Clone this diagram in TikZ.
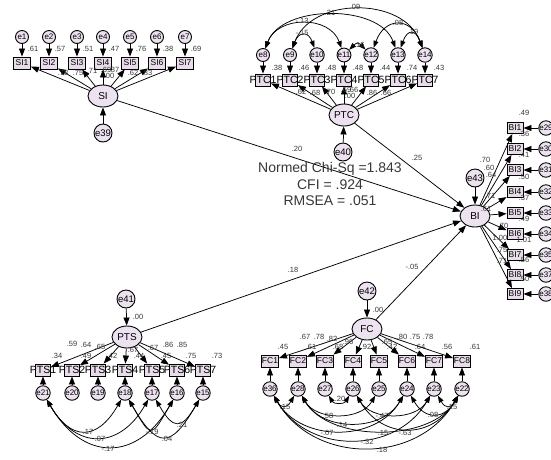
\documentclass[tikz,border=0pt]{standalone}
\usepackage{fontspec}
\setmainfont{Liberation Sans}
\usetikzlibrary{arrows.meta,shapes.geometric}

\definecolor{latfill}{RGB}{236,226,240}
\definecolor{boxfill}{RGB}{232,220,234}
\definecolor{ink}{RGB}{55,55,55}

\begin{document}
\begin{tikzpicture}[x=1pt,y=-1pt,
  every node/.style={inner sep=0pt},
  obs/.style={draw,line width=0.9pt,fill=boxfill,minimum width=17pt,minimum height=12pt,font=\fontsize{8.5}{8.5}\selectfont},
  bibox/.style={obs,minimum width=16pt,minimum height=11pt},
  boxtext/.style={font=\fontsize{10.5}{10.5}\selectfont,inner sep=0pt},
  narrowbox/.style={draw,line width=0.9pt,fill=boxfill,minimum width=15pt,minimum height=12pt,label={[boxtext]center:#1}},
  lat/.style={ellipse,draw,line width=0.9pt,fill=latfill,minimum width=30pt,minimum height=22pt,font=\fontsize{10}{10}\selectfont},
  err/.style={circle,draw,line width=0.9pt,fill=latfill,minimum size=13pt,font=\fontsize{8}{8}\selectfont},
  bigerr/.style={err,minimum size=18pt,font=\fontsize{9.5}{9.5}\selectfont},
  arr/.style={-{Triangle[length=8pt,width=6pt]},line width=0.75pt},
  cov/.style={{Triangle[length=7pt,width=5pt]}-{Triangle[length=7pt,width=5pt]},line width=0.75pt},
  lbl/.style={font=\fontsize{7.5}{7.5}\selectfont,text=ink},
  fit/.style={font=\fontsize{14}{16.5}\selectfont,align=center,text=ink},
]
\useasboundingbox (0,0) rectangle (551,459);

% ---------- latent variables and their disturbances ----------
\node[lat] (SI)  at (103,96)  {SI};
\node[lat] (PTC) at (344,115) {PTC};
\node[lat] (BI)  at (475,216) {BI};
\node[lat] (PTS) at (127,337) {PTS};
\node[lat] (FC)  at (367,329) {FC};
\node[bigerr] (e39) at (103,133) {e39};
\node[bigerr] (e40) at (343,152) {e40};
\node[bigerr] (e43) at (475,178) {e43};
\node[bigerr] (e41) at (126,299) {e41};
\node[bigerr] (e42) at (367,291) {e42};
\draw[arr] (e39) -- (SI);
\draw[arr] (e40) -- (PTC);
\draw[arr] (e43) -- (BI);
\draw[arr] (e41) -- (PTS);
\draw[arr] (e42) -- (FC);

% ---------- SI indicators ----------
\foreach \i/\x/\r in {1/22/.61,2/49/.57,3/77/.51,4/103/.47,5/130/.76,6/157/.38,7/185/.69}{
  \node[obs] (SI\i) at (\x,63) {SI\i};
  \node[err] (e\i) at (\x,37) {e\i};
  \node[lbl] at (\x+11,49) {\r};
  \draw[arr] (e\i) -- (SI\i);
  \draw[arr] (SI) -- (SI\i);
}
\node[lbl] at (63,73) {.78};
\node[lbl] at (78,73) {.75};
\node[lbl] at (92,71) {.71};
\node[lbl] at (106,70) {.69};
\node[lbl] at (114,70) {.87};
\node[lbl] at (109,76) {.00};
\node[lbl] at (133,73) {.62};
\node[lbl] at (147,73) {.83};

% ---------- PTC indicators ----------
\foreach \i/\k/\x/\r in {1/8/263/.38,2/9/290/.46,3/10/317/.48,4/11/344/.48,5/12/371/.44,6/13/398/.74,7/14/425/.43}{
  \node[narrowbox=PTC\i] (PTC\i) at (\x,80) {};
  \node[err] (e\k) at (\x,55) {e\k};
  \node[lbl] at (\x+14,68) {\r};
  \draw[arr] (e\k) -- (PTC\i);
  \draw[arr] (PTC) -- (PTC\i);
}
\node[lbl] at (301,92) {.62};
\node[lbl] at (315,93) {.68};
\node[lbl] at (330,92) {.70};
\node[lbl] at (346,90) {.69};
\node[lbl] at (353,90) {.66};
\node[lbl] at (350,96) {.00};
\node[lbl] at (372,93) {.86};
\node[lbl] at (386,93) {.66};
% error covariances among PTC items
\draw[cov] (e9)  to[out=70,in=110,distance=55pt] (e14);
\draw[cov] (e8)  to[out=70,in=110,distance=47pt] (e13);
\draw[cov] (e8)  to[out=70,in=110,distance=35pt] (e11);
\draw[cov] (e12) to[out=70,in=110,distance=33pt] (e14);
\draw[cov] (e9)  to[out=70,in=110,distance=18pt] (e10);
\draw[cov] (e13) to[out=70,in=110,distance=20pt] (e14);
\draw[cov] (e11) to[out=45,in=135,distance=10pt] (e12);
\node[lbl] at (355,7)  {.09};
\node[lbl] at (330,13) {.21};
\node[lbl] at (302,21) {-.13};
\node[lbl] at (398,23) {.08};
\node[lbl] at (302,33) {-.15};
\node[lbl] at (413,32) {.19};
\node[lbl] at (358,45) {-.16};

% ---------- BI indicators ----------
\foreach \i/\y/\r/\e in {1/128/.49/29,2/149/.36/30,3/170/.41/31,4/192/.50/32,5/213/.37/33,6/234/.49/34,7/255/1.01/35,8/275/.56/37,9/294/.50/38}{
  \node[bibox] (BI\i) at (515,\y) {BI\i};
  \node[err] (eb\i) at (546,\y) {e\e};
  \node[lbl] at (524,\y-15) {\r};
  \draw[arr] (eb\i) -- (BI\i);
  \draw[arr] (BI) -- (BI\i);
}
\node[lbl] at (485,160) {.70};
\node[lbl] at (489,168) {.60};
\node[lbl] at (491,175) {.64};
\node[lbl] at (490,196) {.71};
\node[lbl] at (486,209) {.61};
\node[lbl] at (503,226) {.70};
\node[lbl] at (500,238) {1.00};
\node[lbl] at (502,250) {.75};
\node[lbl] at (502,261) {.71};

% ---------- PTS indicators ----------
\foreach \i/\x/\r/\k in {1/43/.34/21,2/72/.49/20,3/98/.42/19,4/125/.44/18,5/152/.45/17,6/177/.75/16,7/203/.73/15}{
  \node[narrowbox=PTS\i] (PTS\i) at (\x,370) {};
  \node[err] (e\k) at (\x,393) {e\k};
  \node[lbl] at (\x+14,356) {\r};
  \draw[arr] (e\k) -- (PTS\i);
  \draw[arr] (PTS) -- (PTS\i);
}
\node[lbl] at (138,317) {.00};
\node[lbl] at (72,344) {.59};
\node[lbl] at (86,345) {.64};
\node[lbl] at (100,347) {.65};
\node[lbl] at (133,350) {.67};
\node[lbl] at (153,348) {.67};
\node[lbl] at (168,345) {.86};
\node[lbl] at (182,345) {.85};
% error covariances among PTS items
\draw[cov] (e21) to[out=-60,in=-120,distance=48pt] (e18);
\draw[cov] (e21) to[out=-60,in=-120,distance=58pt] (e17);
\draw[cov] (e21) to[out=-60,in=-120,distance=72pt] (e16);
\draw[cov] (e18) to[out=-60,in=-120,distance=45pt] (e16);
\draw[cov] (e18) to[out=-60,in=-120,distance=57pt] (e15);
\draw[cov] (e17) to[out=-60,in=-120,distance=35pt] (e15);
\node[lbl] at (88,432)  {.17};
\node[lbl] at (100,439) {.07};
\node[lbl] at (108,449) {-.17};
\node[lbl] at (152,432) {-.19};
\node[lbl] at (167,439) {.04};
\node[lbl] at (182,425) {.21};

% ---------- FC indicators ----------
\foreach \i/\x/\r/\k in {1/270/.45/36,2/298/.61/28,3/325/.68/27,4/353/.92/26,5/379/.42/25,6/407/.64/24,7/434/.56/23,8/462/.61/22}{
  \node[obs] (FC\i) at (\x,361) {FC\i};
  \node[err] (e\k) at (\x,389) {e\k};
  \node[lbl] at (\x+13,347) {\r};
  \draw[arr] (e\k) -- (FC\i);
  \draw[arr] (FC) -- (FC\i);
}
\node[lbl] at (378,310) {.00};
\node[lbl] at (305,337) {.67};
\node[lbl] at (319,337) {.78};
\node[lbl] at (332,339) {.82};
\node[lbl] at (348,342) {.96};
\node[lbl] at (387,342) {.65};
\node[lbl] at (402,337) {.80};
\node[lbl] at (415,337) {.75};
\node[lbl] at (428,337) {.78};
% error covariances among FC items
\draw[cov] (e36) to[out=-60,in=-120,distance=15pt] (e28);
\draw[cov] (e27) to[out=-60,in=-120,distance=10pt] (e26);
\draw[cov] (e28) to[out=-60,in=-120,distance=29pt] (e25);
\draw[cov] (e28) to[out=-60,in=-120,distance=42pt] (e24);
\draw[cov] (e26) to[out=-60,in=-120,distance=29pt] (e23);
\draw[cov] (e36) to[out=-60,in=-120,distance=54pt] (e24);
\draw[cov] (e28) to[out=-60,in=-120,distance=54pt] (e22);
\draw[cov] (e26) to[out=-60,in=-120,distance=51pt] (e22);
\draw[cov] (e36) to[out=-60,in=-120,distance=68pt] (e23);
\draw[cov] (e36) to[out=-60,in=-120,distance=80pt] (e22);
\draw[cov] (e24) to[out=-60,in=-120,distance=28pt] (e22);
\draw[cov] (e23) to[out=-60,in=-120,distance=15pt] (e22);
\node[lbl] at (285,407) {.15};
\node[lbl] at (340,399) {.20};
\node[lbl] at (328,416) {.58};
\node[lbl] at (342,425) {.14};
\node[lbl] at (382,416) {-.47};
\node[lbl] at (327,433) {-.07};
\node[lbl] at (383,433) {.15};
\node[lbl] at (405,433) {-.63};
\node[lbl] at (367,442) {-.32};
\node[lbl] at (382,450) {.18};
\node[lbl] at (433,415) {.08};
\node[lbl] at (452,407) {.15};

% ---------- structural paths ----------
\draw[arr] (SI)  -- (BI);
\draw[arr] (PTC) -- (BI);
\draw[arr] (PTS) -- (BI);
\draw[arr] (FC)  -- (BI);
\node[lbl] at (297,149) {.20};
\node[lbl] at (417,158) {.25};
\node[lbl] at (293,270) {.18};
\node[lbl] at (412,267) {-.05};

% ---------- fit indices ----------
\node[fit] (fitidx) at (330,184) {Normed Chi-Sq =1.843\\CFI = .924\\RMSEA = .051};
\end{tikzpicture}
\end{document}
